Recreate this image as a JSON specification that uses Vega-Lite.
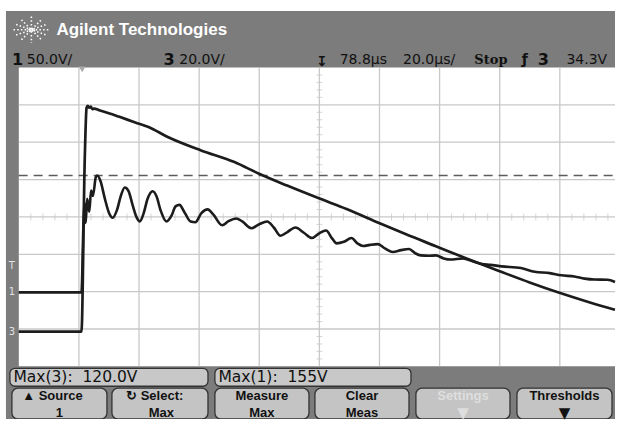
{
  "$schema": "https://vega.github.io/schema/vega-lite/v6.json",
  "width": 621,
  "height": 422,
  "autosize": {"type": "fit", "contains": "padding"},
  "padding": 0,
  "background": "white",
  "config": {"view": {"stroke": null}},
  "datasets": {
    "frame": [{"sx": -0.214, "sx2": 9.918, "sy": -1.409, "sy2": 9.515}],
    "screen": [{"sx": 0, "sx2": 9.918, "sy": 0, "sy2": 8}],
    "vgrid": [
      {"sx": 1, "sy": 0, "sy2": 8}, {"sx": 2, "sy": 0, "sy2": 8}, {"sx": 3, "sy": 0, "sy2": 8},
      {"sx": 4, "sy": 0, "sy2": 8}, {"sx": 5, "sy": 0, "sy2": 8}, {"sx": 6, "sy": 0, "sy2": 8},
      {"sx": 7, "sy": 0, "sy2": 8}, {"sx": 8, "sy": 0, "sy2": 8}, {"sx": 9, "sy": 0, "sy2": 8}
    ],
    "hgrid": [
      {"sy": 1, "sx": 0, "sx2": 9.918}, {"sy": 2, "sx": 0, "sx2": 9.918}, {"sy": 3, "sx": 0, "sx2": 9.918},
      {"sy": 4, "sx": 0, "sx2": 9.918}, {"sy": 5, "sx": 0, "sx2": 9.918}, {"sy": 6, "sx": 0, "sx2": 9.918},
      {"sy": 7, "sx": 0, "sx2": 9.918}
    ],
    "xticks": [
      {"sx": 0.2, "sy": 4}, {"sx": 0.4, "sy": 4}, {"sx": 0.6, "sy": 4}, {"sx": 0.8, "sy": 4},
      {"sx": 1.2, "sy": 4}, {"sx": 1.4, "sy": 4}, {"sx": 1.6, "sy": 4}, {"sx": 1.8, "sy": 4},
      {"sx": 2.2, "sy": 4}, {"sx": 2.4, "sy": 4}, {"sx": 2.6, "sy": 4}, {"sx": 2.8, "sy": 4},
      {"sx": 3.2, "sy": 4}, {"sx": 3.4, "sy": 4}, {"sx": 3.6, "sy": 4}, {"sx": 3.8, "sy": 4},
      {"sx": 4.2, "sy": 4}, {"sx": 4.4, "sy": 4}, {"sx": 4.6, "sy": 4}, {"sx": 4.8, "sy": 4},
      {"sx": 5.2, "sy": 4}, {"sx": 5.4, "sy": 4}, {"sx": 5.6, "sy": 4}, {"sx": 5.8, "sy": 4},
      {"sx": 6.2, "sy": 4}, {"sx": 6.4, "sy": 4}, {"sx": 6.6, "sy": 4}, {"sx": 6.8, "sy": 4},
      {"sx": 7.2, "sy": 4}, {"sx": 7.4, "sy": 4}, {"sx": 7.6, "sy": 4}, {"sx": 7.8, "sy": 4},
      {"sx": 8.2, "sy": 4}, {"sx": 8.4, "sy": 4}, {"sx": 8.6, "sy": 4}, {"sx": 8.8, "sy": 4},
      {"sx": 9.2, "sy": 4}, {"sx": 9.4, "sy": 4}, {"sx": 9.6, "sy": 4}, {"sx": 9.8, "sy": 4}
    ],
    "yticks": [
      {"sx": 5, "sy": 0.2}, {"sx": 5, "sy": 0.4}, {"sx": 5, "sy": 0.6}, {"sx": 5, "sy": 0.8},
      {"sx": 5, "sy": 1.2}, {"sx": 5, "sy": 1.4}, {"sx": 5, "sy": 1.6}, {"sx": 5, "sy": 1.8},
      {"sx": 5, "sy": 2.2}, {"sx": 5, "sy": 2.4}, {"sx": 5, "sy": 2.6}, {"sx": 5, "sy": 2.8},
      {"sx": 5, "sy": 3.2}, {"sx": 5, "sy": 3.4}, {"sx": 5, "sy": 3.6}, {"sx": 5, "sy": 3.8},
      {"sx": 5, "sy": 4.2}, {"sx": 5, "sy": 4.4}, {"sx": 5, "sy": 4.6}, {"sx": 5, "sy": 4.8},
      {"sx": 5, "sy": 5.2}, {"sx": 5, "sy": 5.4}, {"sx": 5, "sy": 5.6}, {"sx": 5, "sy": 5.8},
      {"sx": 5, "sy": 6.2}, {"sx": 5, "sy": 6.4}, {"sx": 5, "sy": 6.6}, {"sx": 5, "sy": 6.8},
      {"sx": 5, "sy": 7.2}, {"sx": 5, "sy": 7.4}, {"sx": 5, "sy": 7.6}, {"sx": 5, "sy": 7.8}
    ],
    "logo": [{"sx": 0.209, "sy": 9.01}],
    "brand": [{"sx": 0.626, "sy": 9.01, "label": "Agilent Technologies"}],
    "chan": [
      {"sx": -0.115, "sy": 8.213, "label": "1"},
      {"sx": 2.405, "sy": 8.213, "label": "3"},
      {"sx": 8.633, "sy": 8.213, "label": "3"}
    ],
    "status": [
      {"sx": 0.132, "sy": 8.213, "label": "50.0V/"},
      {"sx": 2.669, "sy": 8.213, "label": "20.0V/"},
      {"sx": 5.338, "sy": 8.213, "label": "78.8µs"},
      {"sx": 6.392, "sy": 8.213, "label": "20.0µs/"},
      {"sx": 9.11, "sy": 8.213, "label": "34.3V"}
    ],
    "stop": [{"sx": 7.578, "sy": 8.213, "label": "Stop"}],
    "icons": [
      {"sx": 5.041, "sy": 8.15, "label": "↧"},
      {"sx": 8.418, "sy": 8.213, "label": "ƒ"}
    ],
    "markers": [
      {"sx": -0.115, "sy": 2.684, "label": "T"},
      {"sx": -0.115, "sy": 1.98, "label": "1"},
      {"sx": -0.115, "sy": 0.93, "label": "3"}
    ],
    "trig": [{"sx": 1.054, "sy": 7.95}],
    "readouts": [
      {"sx": -0.148, "sx2": 3.147, "sy": -0.532, "sy2": -0.053},
      {"sx": 3.262, "sx2": 6.524, "sy": -0.532, "sy2": -0.053}
    ],
    "readoutText": [
      {"sx": -0.09, "sy": -0.292, "label": "Max(3):\u00a0\u00a0120.0V"},
      {"sx": 3.32, "sy": -0.292, "label": "Max(1):\u00a0\u00a0155V"}
    ],
    "keys": [
      {"sx": -0.115, "sx2": 1.466, "sy": -1.409, "sy2": -0.585},
      {"sx": 1.549, "sx2": 3.147, "sy": -1.409, "sy2": -0.585},
      {"sx": 3.262, "sx2": 4.827, "sy": -1.409, "sy2": -0.585},
      {"sx": 4.926, "sx2": 6.491, "sy": -1.409, "sy2": -0.585},
      {"sx": 6.606, "sx2": 8.171, "sy": -1.409, "sy2": -0.585},
      {"sx": 8.287, "sx2": 9.868, "sy": -1.409, "sy2": -0.585}
    ],
    "keyText": [
      {"sx": 0.56, "sy": -0.79, "label": "▲ Source"},
      {"sx": 0.675, "sy": -1.24, "label": "1"},
      {"sx": 2.26, "sy": -0.79, "label": "↻ Select:"},
      {"sx": 2.372, "sy": -1.24, "label": "Max"},
      {"sx": 4.044, "sy": -0.79, "label": "Measure"},
      {"sx": 4.044, "sy": -1.24, "label": "Max"},
      {"sx": 5.708, "sy": -0.79, "label": "Clear"},
      {"sx": 5.708, "sy": -1.24, "label": "Meas"},
      {"sx": 9.077, "sy": -0.79, "label": "Thresholds"}
    ],
    "keyArrow": [{"sx": 9.077, "sy": -1.25, "label": "▼"}],
    "keyDim": [{"sx": 7.389, "sy": -0.79, "label": "Settings"}],
    "keyDimArrow": [{"sx": 7.389, "sy": -1.25, "label": "▼"}],
    "cursor": [{"t": -21.4, "t2": 177, "v": 155}],
    "ch1": [
      {"t": -21.4, "v": 0}, {"t": -10, "v": 0}, {"t": -0.5, "v": 0},
      {"t": 0.2, "v": 95}, {"t": 0.6, "v": 118}, {"t": 0.9, "v": 92}, {"t": 1.4, "v": 124},
      {"t": 2.1, "v": 107}, {"t": 2.7, "v": 135}, {"t": 3.3, "v": 128}, {"t": 4.3, "v": 153},
      {"t": 4.8, "v": 155}, {"t": 5.8, "v": 148}, {"t": 7.3, "v": 124}, {"t": 8.6, "v": 106},
      {"t": 9.9, "v": 99}, {"t": 11.3, "v": 109}, {"t": 12.6, "v": 128}, {"t": 13.9, "v": 139},
      {"t": 15.2, "v": 134}, {"t": 16.5, "v": 116}, {"t": 17.9, "v": 99}, {"t": 18.9, "v": 94},
      {"t": 20.2, "v": 105}, {"t": 21.5, "v": 124}, {"t": 23.2, "v": 134}, {"t": 24.5, "v": 127},
      {"t": 25.8, "v": 109}, {"t": 27.8, "v": 94}, {"t": 29.5, "v": 102}, {"t": 30.8, "v": 114},
      {"t": 32.1, "v": 116}, {"t": 33.8, "v": 106}, {"t": 35.8, "v": 94}, {"t": 37.4, "v": 93},
      {"t": 39.4, "v": 105}, {"t": 41.5, "v": 110}, {"t": 43.4, "v": 103}, {"t": 46.3, "v": 89},
      {"t": 48.3, "v": 94}, {"t": 51.0, "v": 98}, {"t": 53.0, "v": 94}, {"t": 56.0, "v": 85},
      {"t": 58.5, "v": 90}, {"t": 61.3, "v": 94}, {"t": 63.5, "v": 86}, {"t": 65.7, "v": 75},
      {"t": 68.0, "v": 80}, {"t": 70.7, "v": 86}, {"t": 73.5, "v": 79}, {"t": 76.2, "v": 72},
      {"t": 78.5, "v": 78}, {"t": 80.9, "v": 82}, {"t": 82.8, "v": 72}, {"t": 84.4, "v": 65},
      {"t": 86.8, "v": 67}, {"t": 89.3, "v": 72}, {"t": 91.3, "v": 65}, {"t": 93.2, "v": 61.5},
      {"t": 95.5, "v": 63}, {"t": 98.1, "v": 64}, {"t": 100.6, "v": 58}, {"t": 103.1, "v": 53.5},
      {"t": 105.8, "v": 56}, {"t": 108.5, "v": 57.5}, {"t": 110.5, "v": 52}, {"t": 112.4, "v": 49},
      {"t": 115.0, "v": 48.5}, {"t": 117.4, "v": 49}, {"t": 120.0, "v": 45}, {"t": 122.3, "v": 43.5},
      {"t": 126.3, "v": 45}, {"t": 129.9, "v": 41}, {"t": 132.8, "v": 37.5}, {"t": 135.5, "v": 36.5},
      {"t": 139.3, "v": 34.5}, {"t": 145.7, "v": 32.2}, {"t": 150.3, "v": 27.3}, {"t": 155.3, "v": 25.5},
      {"t": 159.1, "v": 22.6}, {"t": 163.5, "v": 21}, {"t": 166.9, "v": 18.2}, {"t": 170.1, "v": 17},
      {"t": 174.5, "v": 16.8}, {"t": 177.0, "v": 13.8}
    ],
    "ch3": [
      {"t": -21.4, "v": 0}, {"t": -10, "v": 0}, {"t": -0.5, "v": 0},
      {"t": 0.6, "v": 92}, {"t": 1.2, "v": 119}, {"t": 1.6, "v": 120}, {"t": 2.1, "v": 119},
      {"t": 2.6, "v": 119.6}, {"t": 3.1, "v": 118.3}, {"t": 3.7, "v": 118.5}, {"t": 5.4, "v": 117.7},
      {"t": 8.6, "v": 116.1}, {"t": 11.9, "v": 114.3}, {"t": 17.4, "v": 111.2}, {"t": 21.8, "v": 108.8},
      {"t": 28.4, "v": 103.3}, {"t": 39.3, "v": 96.3}, {"t": 50.4, "v": 90.1}, {"t": 58.6, "v": 83.9},
      {"t": 67.9, "v": 77.6}, {"t": 78.7, "v": 70.7}, {"t": 87.7, "v": 65.2}, {"t": 98.7, "v": 57.6},
      {"t": 107.5, "v": 51.7}, {"t": 117.4, "v": 45.4}, {"t": 127.2, "v": 39.1}, {"t": 138.4, "v": 32.2},
      {"t": 148.6, "v": 26.1}, {"t": 158.5, "v": 20.6}, {"t": 168.4, "v": 15.6}, {"t": 177.0, "v": 11.6}
    ]
  },
  "layer": [
    {
      "encoding": {
        "x": {"field": "sx", "type": "quantitative", "scale": {"domain": [-0.313, 9.918], "nice": false, "zero": false}, "axis": null},
        "y": {"field": "sy", "type": "quantitative", "scale": {"domain": [-1.409, 9.807], "nice": false, "zero": false}, "axis": null}
      },
      "layer": [
        {
          "data": {"name": "frame"},
          "mark": {"type": "rect", "color": "#7c7c7c"},
          "encoding": {"x2": {"field": "sx2"}, "y2": {"field": "sy2"}}
        },
        {
          "data": {"name": "screen"},
          "mark": {"type": "rect", "color": "#ffffff"},
          "encoding": {"x2": {"field": "sx2"}, "y2": {"field": "sy2"}}
        },
        {
          "data": {"name": "vgrid"},
          "mark": {"type": "rule", "color": "#c8c8c8", "strokeWidth": 1.3},
          "encoding": {"y2": {"field": "sy2"}}
        },
        {
          "data": {"name": "hgrid"},
          "mark": {"type": "rule", "color": "#c8c8c8", "strokeWidth": 1.3},
          "encoding": {"x2": {"field": "sx2"}}
        },
        {
          "data": {"name": "xticks"},
          "mark": {"type": "tick", "orient": "vertical", "size": 7, "thickness": 1, "color": "#c4c4c4"}
        },
        {
          "data": {"name": "yticks"},
          "mark": {"type": "tick", "orient": "horizontal", "size": 6, "thickness": 1, "color": "#c4c4c4"}
        },
        {
          "data": {"name": "trig"},
          "mark": {"type": "point", "shape": "triangle-down", "filled": true, "size": 45, "color": "#a8a8a8", "opacity": 1}
        },
        {
          "data": {"name": "logo"},
          "mark": {
            "type": "point",
            "shape": "M-1.35,0L1.35,0M0,-1L0,1M-0.75,-0.75L0.75,0.75M-0.75,0.75L0.75,-0.75M-1.15,-0.4L1.15,0.4M-1.15,0.4L1.15,-0.4",
            "size": 700,
            "filled": false,
            "stroke": "#ffffff",
            "strokeWidth": 1.6,
            "strokeDash": [1.5, 2.2],
            "opacity": 1
          }
        },
        {
          "data": {"name": "brand"},
          "mark": {"type": "text", "align": "left", "baseline": "middle", "font": "Liberation Sans", "fontWeight": "bold", "fontSize": 17, "color": "#ffffff"},
          "encoding": {"text": {"field": "label"}}
        },
        {
          "data": {"name": "chan"},
          "mark": {"type": "text", "align": "left", "baseline": "middle", "font": "DejaVu Sans", "fontWeight": "bold", "fontSize": 16, "color": "#111111"},
          "encoding": {"text": {"field": "label"}}
        },
        {
          "data": {"name": "status"},
          "mark": {"type": "text", "align": "left", "baseline": "middle", "font": "DejaVu Sans", "fontSize": 14, "color": "#111111"},
          "encoding": {"text": {"field": "label"}}
        },
        {
          "data": {"name": "stop"},
          "mark": {"type": "text", "align": "left", "baseline": "middle", "font": "DejaVu Serif", "fontWeight": "bold", "fontSize": 13, "color": "#111111"},
          "encoding": {"text": {"field": "label"}}
        },
        {
          "data": {"name": "icons"},
          "mark": {"type": "text", "align": "center", "baseline": "middle", "font": "DejaVu Sans", "fontWeight": "bold", "fontSize": 14, "color": "#111111"},
          "encoding": {"text": {"field": "label"}}
        },
        {
          "data": {"name": "markers"},
          "mark": {"type": "text", "align": "center", "baseline": "middle", "font": "DejaVu Sans", "fontSize": 10, "color": "#e2e2e2"},
          "encoding": {"text": {"field": "label"}}
        },
        {
          "data": {"name": "readouts"},
          "mark": {"type": "rect", "color": "#c8c8c8", "stroke": "#333333", "strokeWidth": 1.3, "cornerRadius": 5},
          "encoding": {"x2": {"field": "sx2"}, "y2": {"field": "sy2"}}
        },
        {
          "data": {"name": "readoutText"},
          "mark": {"type": "text", "align": "left", "baseline": "middle", "font": "DejaVu Sans", "fontSize": 15.5, "color": "#111111"},
          "encoding": {"text": {"field": "label"}}
        },
        {
          "data": {"name": "keys"},
          "mark": {"type": "rect", "color": "#c4c4c4", "stroke": "#333333", "strokeWidth": 1.3, "cornerRadius": 6, "clip": true},
          "encoding": {"x2": {"field": "sx2"}, "y2": {"field": "sy2"}}
        },
        {
          "data": {"name": "keyText"},
          "mark": {"type": "text", "align": "center", "baseline": "middle", "font": "Liberation Sans", "fontWeight": "bold", "fontSize": 13, "color": "#111111"},
          "encoding": {"text": {"field": "label"}}
        },
        {
          "data": {"name": "keyArrow"},
          "mark": {"type": "text", "align": "center", "baseline": "middle", "font": "DejaVu Sans", "fontSize": 15, "color": "#111111"},
          "encoding": {"text": {"field": "label"}}
        },
        {
          "data": {"name": "keyDim"},
          "mark": {"type": "text", "align": "center", "baseline": "middle", "font": "Liberation Sans", "fontWeight": "bold", "fontSize": 13, "color": "#dedede"},
          "encoding": {"text": {"field": "label"}}
        },
        {
          "data": {"name": "keyDimArrow"},
          "mark": {"type": "text", "align": "center", "baseline": "middle", "font": "DejaVu Sans", "fontSize": 15, "color": "#dedede"},
          "encoding": {"text": {"field": "label"}}
        }
      ]
    },
    {
      "encoding": {
        "x": {"field": "t", "type": "quantitative", "scale": {"domain": [-27.6, 177.0], "nice": false, "zero": false}, "axis": null},
        "y": {"field": "v", "type": "quantitative", "scale": {"domain": [-167.8, 387.5], "nice": false, "zero": false}, "axis": null}
      },
      "layer": [
        {
          "data": {"name": "cursor"},
          "mark": {"type": "rule", "color": "#5c5c5c", "strokeWidth": 1.4, "strokeDash": [9, 6]},
          "encoding": {"x2": {"field": "t2"}}
        },
        {
          "data": {"name": "ch1"},
          "mark": {"type": "line", "color": "#1c1c1c", "strokeWidth": 2.6, "interpolate": "monotone"}
        }
      ]
    },
    {
      "data": {"name": "ch3"},
      "mark": {"type": "line", "color": "#1c1c1c", "strokeWidth": 2.7, "interpolate": "monotone"},
      "encoding": {
        "x": {"field": "t", "type": "quantitative", "scale": {"domain": [-27.6, 177.0], "nice": false, "zero": false}, "axis": null},
        "y": {"field": "v", "type": "quantitative", "scale": {"domain": [-46.5, 176.3], "nice": false, "zero": false}, "axis": null}
      }
    }
  ],
  "resolve": {"scale": {"x": "independent", "y": "independent"}}
}
